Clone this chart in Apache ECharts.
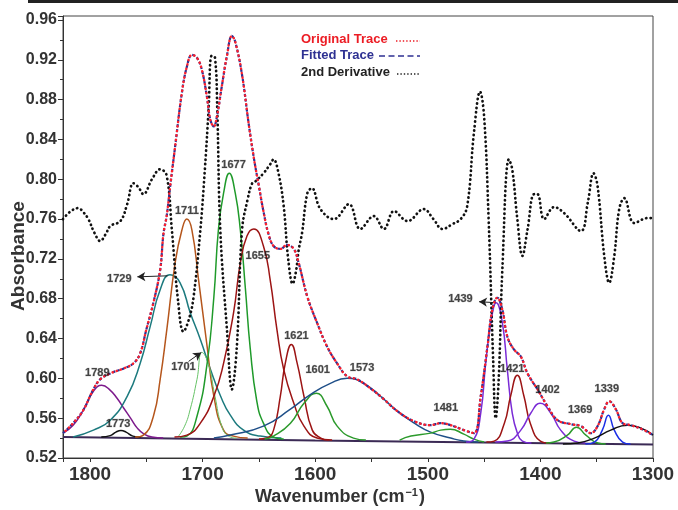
<!DOCTYPE html>
<html>
<head>
<meta charset="utf-8">
<script src="https://cdn.jsdelivr.net/npm/echarts@6/dist/echarts.min.js"></script>
<style>
  html, body { margin: 0; padding: 0; background: #fff; }
  #chart { width: 678px; height: 510px; }
</style>
</head>
<body>
<div id="chart"></div>
<script>
// axis ranges and ticks
const xRange = [1300, 1824]
const yRange = [0.52, 0.964]
const xTickStep = 100
const yTickStep = 0.04

// measured envelope (original and fitted trace overlap)
const envelope = [
  [1824, 0.545], [1815, 0.555], [1806, 0.568], [1797, 0.589], [1791, 0.599], [1782, 0.605],
  [1770, 0.610], [1761.5, 0.615], [1755.5, 0.625], [1750, 0.649], [1743.7, 0.676], [1737.7, 0.709],
  [1734.8, 0.745], [1731.8, 0.764], [1728.8, 0.793], [1724.4, 0.833], [1718.4, 0.887], [1714, 0.913],
  [1709.5, 0.925], [1705, 0.922], [1700.7, 0.910], [1696.2, 0.883], [1693.2, 0.860], [1690, 0.853],
  [1687.3, 0.863], [1683, 0.893], [1678.4, 0.924], [1674, 0.944], [1671, 0.938], [1665, 0.905],
  [1659, 0.855], [1654, 0.818], [1650, 0.793], [1646, 0.768], [1641.5, 0.745], [1637, 0.733],
  [1631, 0.730], [1625, 0.734], [1619, 0.730], [1614.7, 0.716], [1607, 0.682], [1598.4, 0.656],
  [1589.5, 0.632], [1580.5, 0.615], [1571.6, 0.602], [1562.7, 0.599], [1550.9, 0.590], [1539, 0.579],
  [1527, 0.567], [1512.3, 0.557], [1497.5, 0.553], [1488.6, 0.555], [1479.7, 0.553], [1467.9, 0.548],
  [1459, 0.545], [1453, 0.582], [1447, 0.632], [1442.7, 0.669], [1438.3, 0.681], [1433.8, 0.669],
  [1429.4, 0.642], [1423.5, 0.629], [1417.4, 0.622], [1411.5, 0.605], [1402.6, 0.589], [1393.7, 0.572],
  [1384.8, 0.558], [1372.9, 0.554], [1364, 0.552], [1355.2, 0.545], [1349.2, 0.552], [1343.3, 0.569],
  [1338.9, 0.577], [1333, 0.569], [1327, 0.555], [1319.6, 0.553], [1307.8, 0.548], [1300, 0.543]
]

// 2nd derivative trace (offset scale)
const secondDeriv = [
  [1824, 0.760], [1817, 0.768], [1810.4, 0.771], [1806, 0.767], [1801.5, 0.760], [1796, 0.746],
  [1791, 0.738], [1786, 0.745], [1782, 0.753], [1773, 0.758], [1767, 0.775], [1761.5, 0.796],
  [1757, 0.792], [1752.6, 0.785], [1745, 0.800], [1737.7, 0.810], [1732, 0.804], [1727.3, 0.749],
  [1722, 0.680], [1717, 0.647], [1712, 0.660], [1708, 0.682], [1702, 0.749], [1698, 0.810],
  [1694.7, 0.870], [1692, 0.924], [1689, 0.922], [1687, 0.870], [1684.3, 0.749], [1678.4, 0.649],
  [1674, 0.589], [1669.6, 0.632], [1665, 0.749], [1660, 0.780], [1656, 0.796], [1653, 0.798],
  [1646, 0.806], [1640, 0.815], [1637, 0.820], [1632.6, 0.806], [1628, 0.773], [1624, 0.720],
  [1620, 0.695], [1617, 0.708], [1614.7, 0.729], [1611.7, 0.746], [1607, 0.786], [1603, 0.791],
  [1595.4, 0.770], [1583.5, 0.760], [1570, 0.775], [1560, 0.750], [1548, 0.763], [1539, 0.750],
  [1530, 0.768], [1518, 0.758], [1503.6, 0.770], [1495, 0.760], [1487, 0.750], [1478, 0.755],
  [1470.8, 0.760], [1465, 0.773], [1459, 0.847], [1453.6, 0.888], [1450, 0.863], [1446, 0.760],
  [1442, 0.620], [1439.7, 0.560], [1437, 0.600], [1433.8, 0.709], [1428, 0.820], [1425, 0.810],
  [1420.5, 0.760], [1416, 0.723], [1411.5, 0.749], [1405.6, 0.785], [1402.6, 0.785], [1396.7, 0.760],
  [1387.8, 0.772], [1378.9, 0.766], [1364, 0.748], [1358, 0.776], [1352.8, 0.806], [1349.2, 0.793],
  [1343.3, 0.723], [1338.9, 0.696], [1334.4, 0.723], [1330, 0.770], [1325.5, 0.781], [1316.6, 0.756],
  [1304.8, 0.761], [1300, 0.761]
]

const baseline = [[1824, 0.541], [1600, 0.5375], [1300, 0.5335]]

// fitted components
const peak1789 = [[1824, 0.545], [1815, 0.553], [1806, 0.568], [1797, 0.587], [1789.6, 0.593], [1782, 0.588],
  [1776, 0.580], [1770, 0.570], [1764, 0.560], [1758, 0.550], [1752, 0.544], [1745, 0.541], [1735, 0.540]]
const peak1773 = [[1790, 0.541], [1782, 0.5425], [1777, 0.546], [1772.5, 0.5475], [1768, 0.546], [1762, 0.542], [1755, 0.541]]
const peak1729 = [[1815, 0.541], [1797, 0.548], [1782, 0.558], [1767, 0.582], [1755.5, 0.615], [1746.6, 0.652],
  [1737.7, 0.689], [1729, 0.704], [1720, 0.696], [1711, 0.666], [1702, 0.639], [1693, 0.609], [1684, 0.582],
  [1675.4, 0.563], [1663.6, 0.548], [1648.8, 0.542], [1630, 0.540]]
const peak1711 = [[1760, 0.541], [1752.6, 0.543], [1743.7, 0.562], [1737.7, 0.599], [1731.8, 0.649], [1724.4, 0.716],
  [1718.4, 0.749], [1714, 0.760], [1709.5, 0.749], [1703.6, 0.699], [1696, 0.632], [1690, 0.582],
  [1681.4, 0.548], [1672.5, 0.542], [1660, 0.540]]
const peak1701 = [[1722, 0.541], [1716, 0.552], [1711, 0.569], [1705, 0.599], [1700.5, 0.626], [1695, 0.615],
  [1689, 0.582], [1683, 0.552], [1677, 0.542], [1670, 0.540]]
const peak1677 = [[1720, 0.541], [1714, 0.542], [1705, 0.562], [1696, 0.615], [1690, 0.682], [1686, 0.749],
  [1681.4, 0.786], [1676.3, 0.806], [1671, 0.786], [1666.5, 0.749], [1662, 0.690], [1657.7, 0.630],
  [1652, 0.578], [1646, 0.555], [1637, 0.541], [1628, 0.539]]
const peak1655 = [[1725, 0.541], [1714, 0.543], [1702, 0.555], [1690, 0.582], [1681.4, 0.615], [1672.5, 0.666],
  [1666.5, 0.716], [1660.6, 0.743], [1654.5, 0.750], [1646, 0.733], [1640, 0.699], [1634, 0.649],
  [1628, 0.609], [1619, 0.575], [1610, 0.552], [1598.4, 0.540], [1585, 0.538]]
const peak1621 = [[1650, 0.539], [1643, 0.540], [1637, 0.548], [1631, 0.582], [1626.6, 0.615], [1621.2, 0.634],
  [1616, 0.615], [1610, 0.582], [1602.6, 0.548], [1595, 0.540], [1588, 0.538]]
const peak1601 = [[1645, 0.539], [1637, 0.542], [1622, 0.555], [1610, 0.575], [1599, 0.585], [1589.5, 0.572],
  [1580.5, 0.552], [1566, 0.540], [1555, 0.538]]
const peak1573 = [[1690, 0.540], [1675.4, 0.543], [1646, 0.552], [1622, 0.569], [1604, 0.584], [1586.5, 0.595],
  [1571.6, 0.600], [1557, 0.595], [1542, 0.582], [1527, 0.567], [1512, 0.555], [1497.5, 0.546],
  [1479.7, 0.540], [1468, 0.537], [1455, 0.536]]
const peak1481 = [[1525, 0.538], [1515, 0.542], [1497.5, 0.545], [1488.6, 0.548], [1480, 0.549], [1468, 0.544],
  [1459, 0.539], [1450, 0.536]]
const peak1439 = [[1466, 0.536], [1459, 0.539], [1453, 0.565], [1448.6, 0.615], [1444, 0.656], [1439.2, 0.676],
  [1433.8, 0.656], [1429.4, 0.609], [1425, 0.565], [1420.5, 0.545], [1416, 0.537], [1408, 0.535]]
const peak1421 = [[1448, 0.536], [1441, 0.537], [1432, 0.555], [1426.5, 0.582], [1420.5, 0.603], [1414.6, 0.582],
  [1409, 0.555], [1400, 0.537], [1392, 0.535]]
const peak1402 = [[1440, 0.536], [1429.4, 0.537], [1417.4, 0.548], [1408.6, 0.565], [1400.3, 0.575], [1390.7, 0.565],
  [1382, 0.548], [1370, 0.537], [1360, 0.535]]
const peak1369 = [[1395, 0.535], [1388, 0.536], [1376, 0.543], [1368, 0.551], [1359.6, 0.543], [1349, 0.535], [1342, 0.534]]
const peak1339 = [[1360, 0.534], [1352, 0.536], [1345, 0.548], [1339.6, 0.563], [1334.4, 0.548], [1327, 0.536], [1320, 0.534]]
const peak1325 = [[1380, 0.534], [1367, 0.535], [1352, 0.540], [1337.5, 0.548], [1322.6, 0.553], [1310.6, 0.550], [1300, 0.543]]

// peak annotations [wavenumber, absorbance, text]
const peakLabels = [
  [1793.5, 0.605, '1789'], [1775, 0.554, '1773'], [1774, 0.700, '1729'], [1714, 0.768, '1711'],
  [1717, 0.611, '1701'], [1672.5, 0.814, '1677'], [1651, 0.723, '1655'], [1616.7, 0.643, '1621'],
  [1597.8, 0.608, '1601'], [1558.4, 0.610, '1573'], [1484, 0.570, '1481'], [1471, 0.680, '1439'],
  [1425, 0.609, '1421'], [1393.7, 0.588, '1402'], [1364.7, 0.568, '1369'], [1341, 0.589, '1339']
]
// arrows [from, to]
const labelArrows = [
  [[1731, 0.703], [1758, 0.702]],
  [[1712.5, 0.617], [1701.2, 0.626]],
  [[1439.7, 0.676], [1454.5, 0.677]]
]

const chart = echarts.init(document.getElementById('chart'), null, { renderer: 'canvas' })
const FONT = '"Liberation Sans", Arial, sans-serif'

function curve(name, data, color, width, z) {
  return {
    name,
    type: 'line',
    data,
    smooth: 0.5,
    symbol: 'none',
    silent: true,
    z: z || 2,
    lineStyle: { color, width: width || 1.5 }
  }
}

const option = {
  animation: false,
  grid: { left: 63, right: 25, top: 16, bottom: 52, show: true, borderColor: '#444', borderWidth: 1 },
  xAxis: {
    type: 'value',
    inverse: true,
    min: xRange[0],
    max: xRange[1],
    interval: xTickStep,
    axisLine: { show: true, lineStyle: { color: '#333', width: 1 } },
    axisTick: { show: true, length: 4, lineStyle: { color: '#333' } },
    minorTick: { show: true, splitNumber: 2, length: 4, lineStyle: { color: '#333' } },
    splitLine: { show: false },
    axisLabel: {
      margin: 7,
      color: '#333',
      fontFamily: FONT,
      fontWeight: 'bold',
      fontSize: 19,
      showMinLabel: true,
      showMaxLabel: false,
      hideOverlap: false,
      formatter: v => String(v)
    }
  },
  yAxis: {
    type: 'value',
    min: yRange[0],
    max: yRange[1],
    interval: yTickStep,
    axisLine: { show: true, lineStyle: { color: '#333', width: 1 } },
    axisTick: { show: true, length: 5, lineStyle: { color: '#333' } },
    minorTick: { show: true, splitNumber: 2, length: 3, lineStyle: { color: '#333' } },
    splitLine: { show: false },
    axisLabel: {
      margin: 6,
      color: '#333',
      fontFamily: FONT,
      fontWeight: 'bold',
      fontSize: 16,
      showMaxLabel: false,
      formatter: v => v.toFixed(2)
    }
  },
  graphic: [
    { type: 'rect', shape: { x: 28, y: 0, width: 650, height: 3 }, style: { fill: '#222' } },
    { type: 'text', x: 301, y: 39.5, style: { text: 'Original Trace', font: 'bold 13px ' + FONT, fill: '#ec1c24', textVerticalAlign: 'middle' } },
    { type: 'line', shape: { x1: 396, y1: 41, x2: 420, y2: 41 }, style: { stroke: '#ec1c24', lineWidth: 1.6, lineDash: [1.4, 2] } },
    { type: 'text', x: 301, y: 55.5, style: { text: 'Fitted Trace', font: 'bold 13px ' + FONT, fill: '#2e3192', textVerticalAlign: 'middle' } },
    { type: 'line', shape: { x1: 379, y1: 56, x2: 420, y2: 56 }, style: { stroke: '#2e3192', lineWidth: 1.6, lineDash: [6, 3.5] } },
    { type: 'text', x: 301, y: 72, style: { text: '2nd Derivative', font: 'bold 13px ' + FONT, fill: '#222', textVerticalAlign: 'middle' } },
    { type: 'line', shape: { x1: 397, y1: 74, x2: 420, y2: 74 }, style: { stroke: '#222', lineWidth: 1.6, lineDash: [1.4, 2] } },
    {
      type: 'text', x: 19, y: 256, rotation: Math.PI / 2,
      style: { text: 'Absorbance', font: 'bold 19px ' + FONT, fill: '#333', textAlign: 'center', textVerticalAlign: 'middle' }
    },
    {
      type: 'text', x: 340, y: 497,
      style: {
        text: '{a|Wavenumber (cm}{s|−1}{a|)}',
        textAlign: 'center',
        textVerticalAlign: 'middle',
        rich: {
          a: { font: 'bold 18px ' + FONT, fill: '#333' },
          s: { font: 'bold 11px ' + FONT, fill: '#333', padding: [0, 1, 9, 1] }
        }
      }
    }
  ],
  series: [
    curve('baseline', baseline, '#3b2a55', 2, 1),
    curve('1789', peak1789, '#7d1a8c'),
    curve('1773', peak1773, '#111111'),
    curve('1729', peak1729, '#1c7a7e'),
    curve('1711', peak1711, '#b5561c'),
    curve('1701', peak1701, '#66c266', 1),
    curve('1677', peak1677, '#1f9a2a'),
    curve('1655', peak1655, '#9c1414'),
    curve('1621', peak1621, '#9c1414'),
    curve('1601', peak1601, '#2c9a2c'),
    curve('1573', peak1573, '#1f4f88'),
    curve('1481', peak1481, '#2c9a2c'),
    curve('1439', peak1439, '#7a2bd6'),
    curve('1421', peak1421, '#9c1414'),
    curve('1402', peak1402, '#7a2bd6'),
    curve('1369', peak1369, '#2c9a2c'),
    curve('1339', peak1339, '#1a2ee6'),
    curve('1325', peak1325, '#111111'),
    {
      name: '2nd Derivative',
      type: 'line',
      data: secondDeriv,
      smooth: 0.4,
      symbol: 'none',
      silent: true,
      z: 4,
      lineStyle: { color: '#111', width: 2.7, type: [0.3, 4.2], cap: 'round' }
    },
    {
      name: 'Fitted Trace',
      type: 'line',
      data: envelope,
      smooth: 0.4,
      symbol: 'none',
      silent: true,
      z: 5,
      lineStyle: { color: '#2e3192', width: 2.2, type: [3, 2] }
    },
    {
      name: 'Original Trace',
      type: 'line',
      data: envelope,
      smooth: 0.4,
      symbol: 'none',
      silent: true,
      z: 6,
      lineStyle: { color: '#ff1f2a', width: 2.4, type: [0.3, 4.2], cap: 'round', dashOffset: 1 }
    },
    {
      name: 'labels',
      type: 'scatter',
      data: peakLabels.map(d => [d[0], d[1], d[2]]),
      symbolSize: 0,
      silent: true,
      z: 7,
      label: {
        show: true,
        position: 'inside',
        formatter: p => p.data[2],
        color: '#1a1a1a',
        fontFamily: FONT,
        fontWeight: 'bold',
        fontSize: 11,
        textBorderColor: 'rgba(0,0,0,0.35)',
        textBorderWidth: 0.7
      },
      markLine: {
        silent: true,
        symbol: ['none', 'arrow'],
        symbolSize: [7, 8],
        label: { show: false },
        lineStyle: { color: '#222', width: 1, type: 'solid' },
        data: labelArrows.map(a => [{ coord: a[0] }, { coord: a[1] }])
      }
    }
  ]
}

chart.setOption(option)
</script>
</body>
</html>
